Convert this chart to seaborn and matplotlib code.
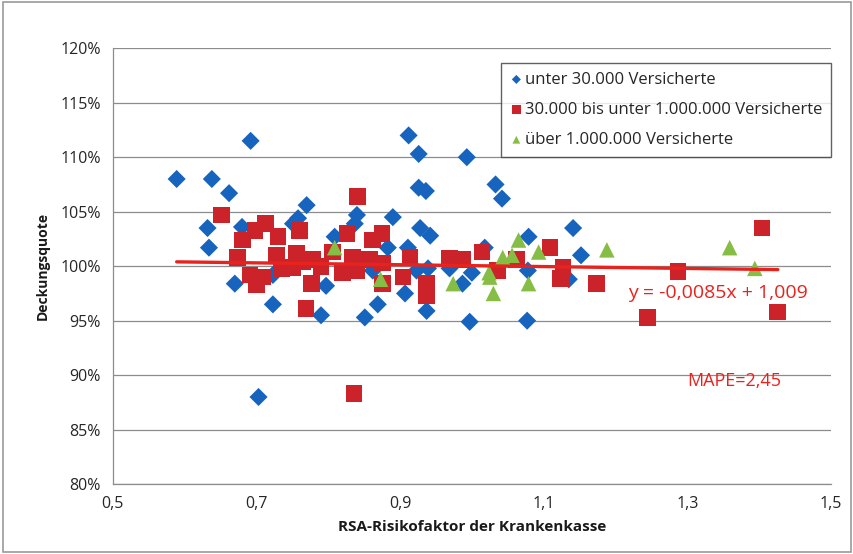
import matplotlib
matplotlib.use("Agg")
import matplotlib.pyplot as plt
import matplotlib.ticker as mticker
import seaborn as sns
import pandas as pd
import numpy as np

# RSA-Risikofaktor / Deckungsquote (%) je Größenklasse
klein_x = [0.589, 0.638, 0.662, 0.692, 0.632, 0.634, 0.670, 0.680, 0.770, 0.758,
           0.751, 0.723, 0.723, 0.797, 0.790, 0.809, 0.703, 0.912, 0.926, 0.993,
           0.926, 0.936, 1.033, 1.042, 0.840, 0.837, 0.890, 0.928, 0.942, 1.079,
           1.141, 1.152, 0.883, 0.911, 0.862, 0.923, 0.939, 0.969, 1.000, 0.987,
           0.907, 0.869, 0.937, 0.851, 0.997, 1.077, 1.078, 1.018, 1.135]
klein_y = [108.0, 108.0, 106.7, 111.5, 103.5, 101.7, 98.4, 103.6, 105.6, 104.4,
           103.9, 99.2, 96.5, 98.2, 95.5, 102.7, 88.0, 112.0, 110.3, 110.0,
           107.2, 106.9, 107.5, 106.2, 104.7, 103.9, 104.5, 103.5, 102.8, 102.7,
           103.5, 101.0, 101.7, 101.7, 99.6, 99.6, 99.8, 99.8, 99.4, 98.4,
           97.5, 96.5, 95.9, 95.3, 94.9, 95.0, 99.6, 101.7, 98.8]

mittel_x = [0.651, 0.681, 0.698, 0.713, 0.730, 0.674, 0.691, 0.700, 0.709, 0.728,
            0.735, 0.756, 0.760, 0.765, 0.779, 0.751, 0.777, 0.769, 0.826, 0.820,
            0.841, 0.862, 0.875, 0.834, 0.840, 0.858, 0.876, 0.876, 0.904, 0.914,
            0.937, 0.937, 0.969, 0.987, 1.014, 1.036, 1.062, 1.109, 1.127, 1.123,
            0.836, 1.174, 1.287, 1.245, 1.404, 1.426, 0.740, 0.790, 0.806]
mittel_y = [104.7, 102.4, 103.3, 103.9, 102.7, 100.8, 99.2, 98.3, 99.0, 101.0,
            99.8, 101.2, 103.3, 100.4, 100.6, 99.9, 98.4, 96.1, 103.0, 99.4,
            106.4, 102.4, 103.0, 100.8, 99.6, 100.6, 100.3, 98.4, 99.0, 100.8,
            98.4, 97.3, 100.7, 100.6, 101.3, 99.6, 100.6, 101.7, 99.9, 98.9,
            88.3, 98.4, 99.5, 95.3, 103.5, 95.8, 99.9, 100.0, 101.3]

gross_x = [0.809, 0.873, 0.974, 1.024, 1.025, 1.030, 1.043, 1.056, 1.065, 1.093,
           1.079, 1.188, 1.359, 1.394]
gross_y = [101.7, 98.8, 98.4, 99.4, 99.0, 97.5, 100.8, 101.0, 102.4, 101.3,
           98.4, 101.5, 101.7, 99.8]

gruppen = ["unter 30.000 Versicherte",
           "30.000 bis unter 1.000.000 Versicherte",
           "über 1.000.000 Versicherte"]

# Trendlinie (Excel): y = -0,0085x + 1,009
steigung = -0.0085
achse = 1.009

df = pd.concat([
    pd.DataFrame({"x": klein_x, "y": klein_y, "gruppe": gruppen[0]}),
    pd.DataFrame({"x": mittel_x, "y": mittel_y, "gruppe": gruppen[1]}),
    pd.DataFrame({"x": gross_x, "y": gross_y, "gruppe": gruppen[2]}),
], ignore_index=True)

sns.set_style("white")
plt.rcParams["font.family"] = ["Open Sans", "DejaVu Sans"]

fig = plt.figure(figsize=(8.54, 5.54), dpi=100)
ax = fig.add_axes([0.132, 0.126, 0.841, 0.787])

farben = {gruppen[0]: "#1764BE", gruppen[1]: "#CC2229", gruppen[2]: "#86BE45"}
marker = {gruppen[0]: "D", gruppen[1]: "s", gruppen[2]: "^"}
groessen = {gruppen[0]: 85, gruppen[1]: 145, gruppen[2]: 125}

for g in gruppen:
    sns.scatterplot(data=df[df["gruppe"] == g], x="x", y="y", color=farben[g],
                    marker=marker[g], s=groessen[g], edgecolor="none",
                    ax=ax, label=g, zorder=3)

xs = np.array([df["x"].min(), df["x"].max()])
sns.lineplot(x=xs, y=(steigung * xs + achse) * 100, color="#E8231E",
             linewidth=2.4, ax=ax, zorder=4, legend=False)

ax.set_xlim(0.5, 1.5)
ax.set_ylim(80, 120)
ax.set_xticks([0.5, 0.7, 0.9, 1.1, 1.3, 1.5])
ax.set_yticks(range(80, 121, 5))
ax.xaxis.set_major_formatter(mticker.FuncFormatter(lambda v, p: f"{v:.1f}".replace(".", ",")))
ax.yaxis.set_major_formatter(mticker.FuncFormatter(lambda v, p: f"{v:.0f}%"))
ax.grid(axis="y", color="#8C8C8C", linewidth=0.9)
ax.set_axisbelow(True)
for s in ["top", "right"]:
    ax.spines[s].set_visible(False)
for s in ["left", "bottom"]:
    ax.spines[s].set_color("#8C8C8C")
    ax.spines[s].set_linewidth(0.9)
ax.tick_params(axis="both", which="major", direction="out", length=5,
               color="#8C8C8C", labelsize=11.5, labelcolor="#262626")
ax.set_xlabel("RSA-Risikofaktor der Krankenkasse", fontsize=11, fontweight="bold",
              color="#1a1a1a", labelpad=6)
ax.set_ylabel("Deckungsquote", fontsize=10, fontweight="bold", color="#1a1a1a", labelpad=8)

ax.text(1.343, 97.5, "y = -0,0085x + 1,009", color="#E8231E", fontsize=14,
        ha="center", va="center")
ax.text(1.366, 89.5, "MAPE=2,45", color="#E8231E", fontsize=13,
        ha="center", va="center")

leg = ax.legend(loc="upper right", bbox_to_anchor=(1.012, 0.986), fontsize=12,
                frameon=True, fancybox=False, handletextpad=0.1,
                handlelength=0.8, borderpad=0.55, labelspacing=0.85,
                markerscale=0.5)
leg.get_frame().set_edgecolor("#3a3a3a")
leg.get_frame().set_linewidth(1.0)

fig.patches.append(plt.Rectangle((0.003, 0.004), 0.994, 0.992, transform=fig.transFigure,
                                 fill=False, edgecolor="#9a9a9a", linewidth=1.2))

fig.savefig("out.png", dpi=100)
plt.close(fig)
